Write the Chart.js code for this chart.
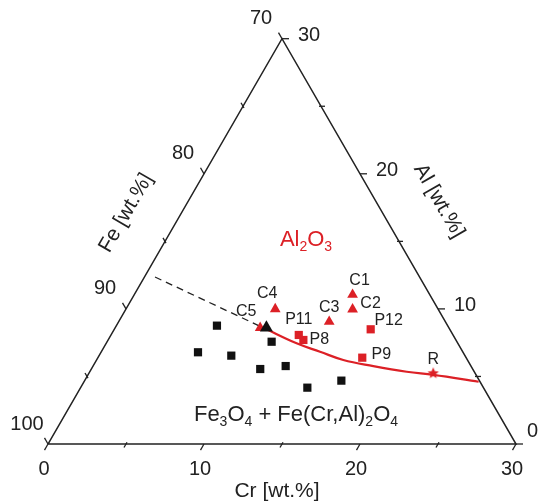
<!DOCTYPE html>
<html>
<head>
<meta charset="utf-8">
<script src="https://cdn.jsdelivr.net/npm/chart.js@4.4.0/dist/chart.umd.min.js"></script>
<style>
  html, body { margin: 0; padding: 0; background: #fff; overflow: hidden; }
  #wrap { width: 539px; height: 504px; }
</style>
</head>
<body>
<div id="wrap"><canvas id="ternary" width="539" height="504"></canvas></div>
<script>
// ternary values: [Cr, Al] in wt.%, Fe = 100 - Cr - Al
const blackSquares = [
  [6.45, 8.76], [6.22, 6.79], [8.48, 6.54], [10.55, 7.57],
  [10.83, 5.55], [12.35, 5.77], [14.54, 4.17], [16.46, 4.69]
];
const triLabels = ["C1", "C2", "C3", "C4", "C5"];
const triPoints = [[14.0, 11.05], [14.54, 9.97], [13.5, 9.05], [9.57, 9.99], [9.3, 8.6]];
const c5Black = [[9.7, 8.6]];
const sqLabels = ["P11", "P8", "P12", "P9"];
const sqPoints = [[12.04, 8.07], [12.52, 7.70], [16.44, 8.49], [16.95, 6.39]];
const refLabel = ["R"];
const refPoint = [[22.08, 5.23]];
const boundaryCurve = [
  [9.6, 8.56], [12.21, 7.45], [14.02, 6.83], [15.82, 6.22],
  [17.97, 5.77], [20.32, 5.35], [22.15, 5.11], [25.3, 4.61]
];
const dashedLine = [[0.68, 12.36], [9.6, 8.56]];
const tickValues = [0, 5, 10, 15, 20, 25, 30];
const majorTicks = [0, 10, 20, 30];

// label offsets in px (style, not data)
const labelOffsets = {
  C1: [7, -14], C2: [18, -6], C3: [0, -14], C4: [-8, -15], C5: [-14, -16],
  P11: [0, -15], P8: [16, 0], P12: [18, -9], P9: [19, -3], R: [0, -14]
};

const RED = "#dc2026";
const INK = "#222";
const FONT = '"Liberation Sans", Arial, sans-serif';

function toXY(p) {
  return { x: p[0] + p[1] / 2, y: p[1] * Math.sqrt(3) / 2 };
}

// small filled star for point R
function makeStar(r, color) {
  const c = document.createElement("canvas");
  c.width = c.height = r * 2 + 2;
  const g = c.getContext("2d");
  g.fillStyle = color;
  g.beginPath();
  for (let i = 0; i < 10; i++) {
    const rr = i % 2 ? r * 0.45 : r;
    const a = -Math.PI / 2 + i * Math.PI / 5;
    g.lineTo(r + 1 + rr * Math.cos(a), r + 1 + rr * Math.sin(a));
  }
  g.closePath();
  g.fill();
  return c;
}

function richText(ctx, parts, cx, cy, size, color) {
  const subSize = Math.round(size * 0.62);
  let total = 0;
  parts.forEach(p => {
    ctx.font = (p[1] ? subSize : size) + "px " + FONT;
    total += ctx.measureText(p[0]).width;
  });
  let x = cx - total / 2;
  ctx.fillStyle = color;
  ctx.textAlign = "left";
  ctx.textBaseline = "middle";
  parts.forEach(p => {
    ctx.font = (p[1] ? subSize : size) + "px " + FONT;
    ctx.fillText(p[0], x, p[1] ? cy + size * 0.32 : cy);
    x += ctx.measureText(p[0]).width;
  });
}

const ternaryAxes = {
  id: "ternaryAxes",
  afterDatasetsDraw(chart) {
    const ctx = chart.ctx;
    const sx = chart.scales.x, sy = chart.scales.y;
    const px = p => { const q = toXY(p); return [sx.getPixelForValue(q.x), sy.getPixelForValue(q.y)]; };
    ctx.save();
    ctx.strokeStyle = INK;
    ctx.lineWidth = 1.3;
    ctx.fillStyle = INK;

    const sides = [
      { pt: v => [v, 0], dir: [-0.5, 0.866] },        // Cr, bottom
      { pt: v => [30 - v, v], dir: [1, 0] },          // Al, right
      { pt: v => [0, v], dir: [-0.5, -0.866] }        // Fe, left
    ];
    sides.forEach(s => {
      tickValues.forEach(v => {
        const [x, y] = px(s.pt(v));
        const major = majorTicks.includes(v);
        const len = major ? 7 : 4;
        ctx.beginPath();
        ctx.moveTo(x - s.dir[0] * (major ? 0 : 2), y - s.dir[1] * (major ? 0 : 2));
        ctx.lineTo(x + s.dir[0] * len, y + s.dir[1] * len);
        ctx.stroke();
      });
    });

    ctx.font = "20px " + FONT;
    ctx.textBaseline = "middle";
    majorTicks.forEach(v => {
      let [x, y] = px([v, 0]);
      ctx.textAlign = "center";
      ctx.fillText(String(v), x - 4, y + 25);
      [x, y] = px([30 - v, v]);
      ctx.textAlign = "left";
      if (v === 0) ctx.fillText("0", x + 11, y - 13);
      else ctx.fillText(String(v), x + 16, y - 3);
      [x, y] = px([0, v]);
      ctx.textAlign = "center";
      ctx.fillText(String(100 - v), x - 21, y - 20);
    });

    // axis titles
    ctx.font = "21px " + FONT;
    ctx.textAlign = "center";
    ctx.fillText("Cr [wt.%]", 277, 491);
    ctx.save();
    ctx.translate(126, 213);
    ctx.rotate(-Math.PI / 3);
    ctx.fillText("Fe [wt.%]", 0, 0);
    ctx.restore();
    ctx.save();
    ctx.translate(439, 201);
    ctx.rotate(Math.PI / 3);
    ctx.fillText("Al [wt.%]", 0, 0);
    ctx.restore();

    // phase field labels
    richText(ctx, [["Al", 0], ["2", 1], ["O", 0], ["3", 1]], 306, 240, 22, RED);
    richText(ctx, [["Fe", 0], ["3", 1], ["O", 0], ["4", 1], [" + Fe(Cr,Al)", 0], ["2", 1], ["O", 0], ["4", 1]], 296, 415, 22, INK);

    // point labels
    ctx.font = "16px " + FONT;
    ctx.fillStyle = INK;
    ctx.textAlign = "center";
    ctx.textBaseline = "middle";
    const put = (names, pts) => names.forEach((n, i) => {
      const [x, y] = px(pts[i]);
      const o = labelOffsets[n];
      ctx.fillText(n, x + o[0], y + o[1]);
    });
    put(triLabels, triPoints);
    put(sqLabels, sqPoints);
    put(refLabel, refPoint);
    ctx.restore();
  }
};

const frame = [[0, 0], [30, 0], [0, 30], [0, 0]];

new Chart(document.getElementById("ternary"), {
  type: "scatter",
  data: {
    datasets: [
      { data: frame.map(toXY), showLine: true, borderColor: INK, borderWidth: 1.5, pointRadius: 0, order: 5 },
      { data: dashedLine.map(toXY), showLine: true, borderColor: INK, borderWidth: 1.3, borderDash: [7, 5], pointRadius: 0, order: 4 },
      { data: boundaryCurve.map(toXY), showLine: true, borderColor: RED, borderWidth: 2.2, tension: 0.4, pointRadius: 0, order: 4 },
      { data: blackSquares.map(toXY), pointStyle: "rect", pointRadius: 5.8, backgroundColor: "#111", borderWidth: 0, order: 3 },
      { data: triPoints.map(toXY), pointStyle: "triangle", pointRadius: 6.2, backgroundColor: RED, borderWidth: 0, order: 2 },
      { data: c5Black.map(toXY), pointStyle: "triangle", pointRadius: 7.5, backgroundColor: "#111", borderWidth: 0, order: 1 },
      { data: sqPoints.map(toXY), pointStyle: "rect", pointRadius: 5.8, backgroundColor: RED, borderWidth: 0, order: 2 },
      { data: refPoint.map(toXY), pointStyle: makeStar(6, RED), pointRadius: 6, order: 1 }
    ]
  },
  options: {
    responsive: false,
    animation: false,
    events: [],
    layout: { padding: 0, autoPadding: false },
    plugins: { legend: { display: false }, tooltip: { enabled: false } },
    scales: {
      x: { type: "linear", display: false, min: -48 / 15.6, max: (539 - 48) / 15.6 },
      y: { type: "linear", display: false, min: -(504 - 444) / 15.6, max: 444 / 15.6 }
    }
  },
  plugins: [ternaryAxes]
});
</script>
</body>
</html>
